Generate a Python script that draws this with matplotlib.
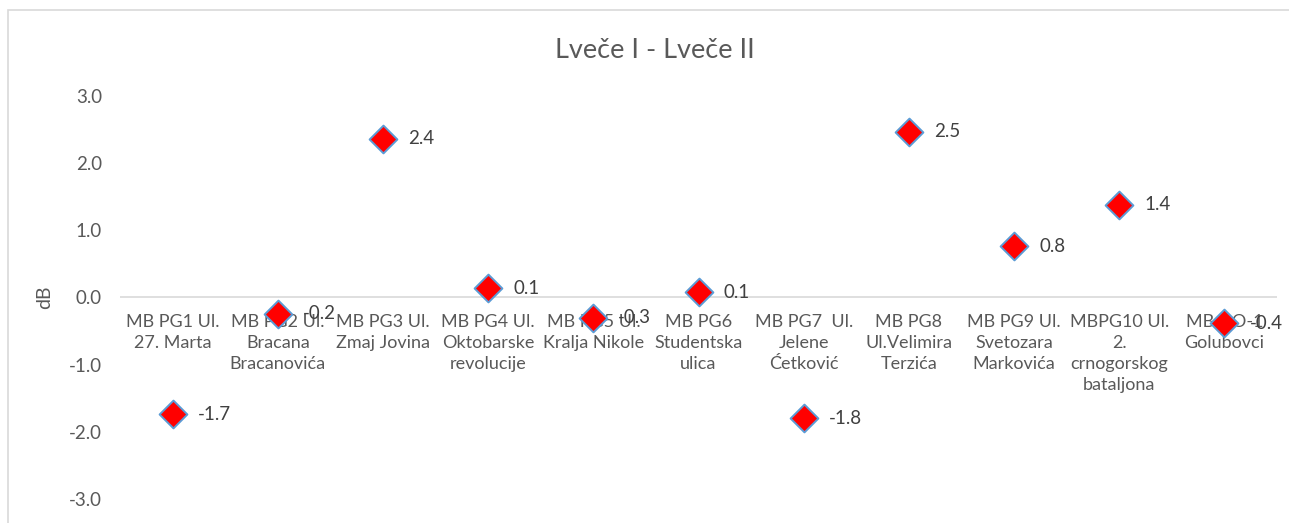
import matplotlib
matplotlib.use("Agg")
import matplotlib.pyplot as plt
from matplotlib.patches import Rectangle

# Data
categories = [
    "MB PG1 Ul.\n27. Marta",
    "MB PG2 Ul.\nBracana\nBracanovića",
    "MB PG3 Ul.\nZmaj Jovina",
    "MB PG4 Ul.\nOktobarske\nrevolucije",
    "MB PG5 Ul.\nKralja Nikole",
    "MB PG6\nStudentska\nulica",
    "MB PG7  Ul.\nJelene\nĆetković",
    "MB PG8\nUl.Velimira\nTerzića",
    "MB PG9 Ul.\nSvetozara\nMarkovića",
    "MBPG10 Ul.\n2.\ncrnogorskog\nbataljona",
    "MB GO-1\nGolubovci",
]
values = [-1.74, -0.24, 2.36, 0.14, -0.30, 0.08, -1.80, 2.47, 0.76, 1.38, -0.38]
yticks = [-3.0, -2.0, -1.0, 0.0, 1.0, 2.0, 3.0]

plt.rcParams["font.family"] = ["Lato", "DejaVu Sans"]

W, H = 1289, 523
fig = plt.figure(figsize=(W / 100, H / 100), dpi=100)
fig.patch.set_facecolor("white")

# chart frame like the spreadsheet export
fig.add_artist(Rectangle((8 / W, -0.1), 1.2, 1 - 10 / H + 0.1, transform=fig.transFigure,
                         facecolor="none", edgecolor="#d9d9d9", linewidth=1.2))

ax = fig.add_axes([120 / W, 1 - 499 / H, (1277 - 120) / W, (499 - 96) / H])
ax.set_facecolor("none")
x = list(range(len(categories)))
ax.set_xlim(-0.5, len(categories) - 0.5)
ax.set_ylim(-3.0, 3.0)
for s in ax.spines.values():
    s.set_visible(False)
ax.axhline(0, color="#d9d9d9", linewidth=1.2, zorder=1)

ax.set_yticks(yticks)
ax.set_yticklabels([f"{t:.1f}" for t in yticks])
ax.tick_params(axis="y", length=0, labelsize=13.5, colors="#595959", pad=13)
ax.set_xticks([])
ax.set_ylabel("dB", fontsize=14, color="#595959", labelpad=11)

# category labels sit just under the zero line
for xi, lab in zip(x, categories):
    ax.annotate(lab, (xi, 0), xytext=(0, -12), textcoords="offset points",
                ha="center", va="top", fontsize=13, color="#595959",
                linespacing=1.38, zorder=2)

ax.scatter(x, values, marker="D", s=200, facecolor="#ff0000", edgecolor="#5b9bd5",
           linewidth=1.4, zorder=3)
for xi, v in zip(x, values):
    ax.annotate(f"{v:.1f}", (xi, v), xytext=(18, 0), textcoords="offset points",
                ha="left", va="center", fontsize=13.5, color="#404040", zorder=4)

fig.text(655 / W, 1 - 50 / H, "Lveče I - Lveče II", ha="center", va="center",
         fontsize=19.5, color="#595959")

fig.savefig("out.png", dpi=100, facecolor="white")
